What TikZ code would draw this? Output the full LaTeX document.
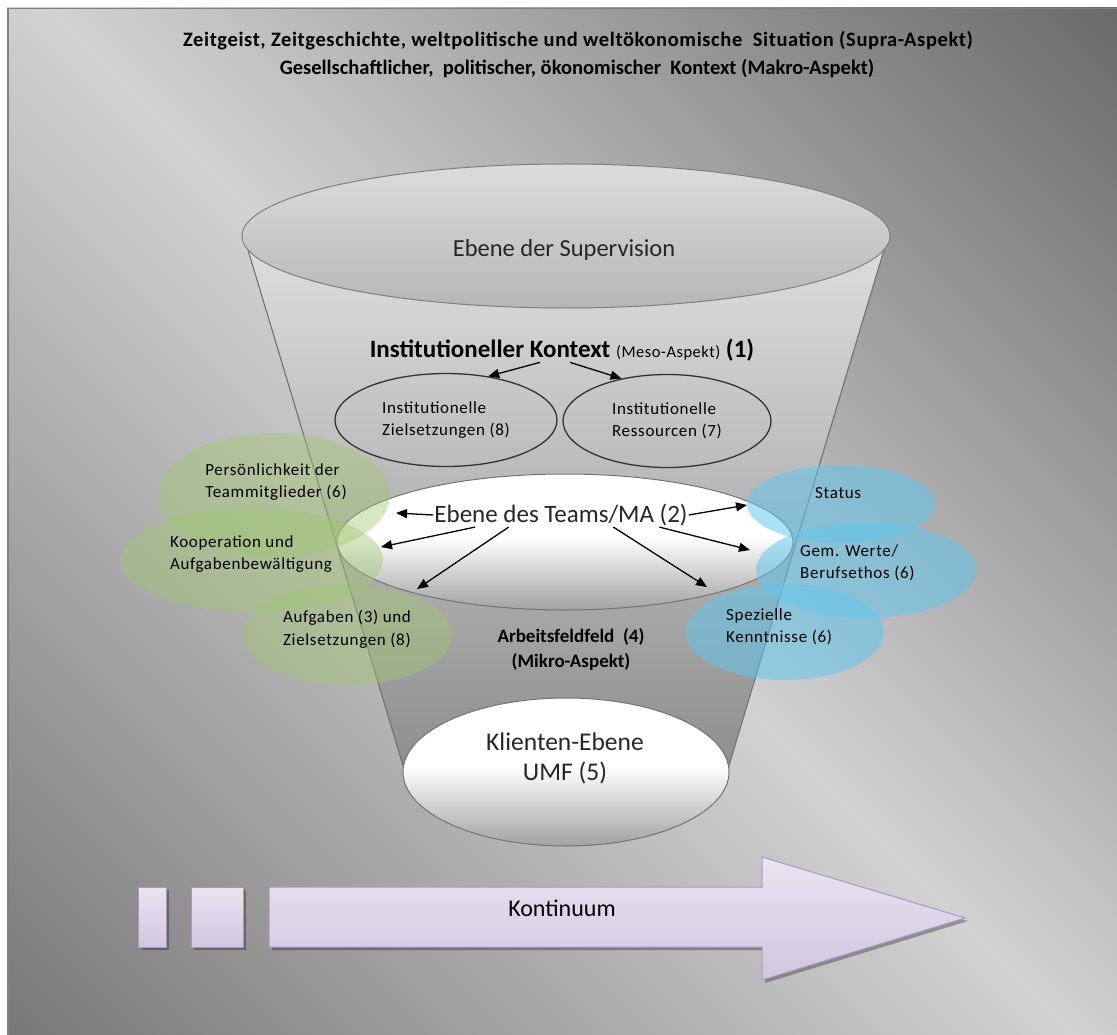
\documentclass[tikz,border=0pt]{standalone}
\usepackage{fontspec}
\setmainfont{Carlito}
\usetikzlibrary{arrows.meta,shapes.geometric}
\definecolor{bgbl}{HTML}{606060}
\definecolor{bgmid}{HTML}{D2D2D2}
\definecolor{bgtr}{HTML}{4E4E4E}
\definecolor{funtop}{HTML}{DCDCDC}
\definecolor{funbot}{HTML}{8E8E8E}
\definecolor{suptop}{HTML}{DCDCDC}
\definecolor{supbot}{HTML}{B6B6B6}
\definecolor{ellgray}{HTML}{A2A2A2}
\definecolor{edge}{HTML}{707070}
\definecolor{greenfill}{RGB}{160,200,110}
\definecolor{bluefill}{RGB}{95,198,238}
\definecolor{lavtop}{HTML}{EAE5F1}
\definecolor{lavbot}{HTML}{D0C6DF}
\definecolor{lavedge}{HTML}{A898C4}
\pgfdeclareverticalshading{bgsh}{100bp}{color(0bp)=(bgbl); color(5bp)=(bgbl); color(50bp)=(bgmid); color(95bp)=(bgtr); color(100bp)=(bgtr)}
\pgfdeclareverticalshading{whitegray}{100bp}{color(0bp)=(ellgray); color(25bp)=(ellgray); color(52bp)=(white); color(75bp)=(white); color(100bp)=(white)}
\tikzset{
  arr/.style={-{Triangle[length=11pt,width=9pt]}, line width=1.3pt, black},
  lbl/.style={font=\fontsize{17}{22.5}\selectfont\addfontfeatures{LetterSpace=4}, align=left, inner sep=0pt, text=black},
  bigtxt/.style={font=\fontsize{25}{30}\selectfont, inner sep=1pt, text=black!85},
  greenell/.style={ellipse, fill=greenfill, fill opacity=0.42, inner sep=0pt},
  blueell/.style={ellipse, fill=bluefill, fill opacity=0.52, inner sep=0pt},
  innerell/.style={ellipse, draw=black!80, line width=1.3pt, inner sep=0pt, align=left,
    font=\fontsize{17}{22.5}\selectfont\addfontfeatures{LetterSpace=4}},
  lavshape/.style={top color=lavtop, bottom color=lavbot, draw=lavedge, line width=1pt},
  lavshadow/.style={fill=black, fill opacity=0.3},
  titletxt/.style={font=\bfseries\fontsize{20.5}{24}\selectfont, inner sep=0pt},
}
\begin{document}
\begin{tikzpicture}[x=1pt,y=-1pt]
\useasboundingbox (0,0) rectangle (1117,1035);
% background
\fill[white] (0,0) rectangle (1117,1035);
\shade[shading=bgsh, shading angle=-45] (7,8) rectangle (1117,1035);
\draw[black!50, line width=1.5pt] (7.75,1035) -- (7.75,8.75) -- (1117,8.75);

% titles
\node[titletxt, font=\bfseries\fontsize{20.5}{24}\selectfont\addfontfeatures{LetterSpace=3}] (t1) at (578,41)
  {Zeitgeist, Zeitgeschichte, weltpolitische und weltökonomische\ \ Situation (Supra-Aspekt)};
\node[titletxt] (t2) at (577,69) {Gesellschaftlicher,\ \ politischer, ökonomischer\ \ Kontext (Makro-Aspekt)};

% funnel body
\shade[top color=funtop, bottom color=funbot] (248,250) -- (884,250) -- (727,772) -- (405,772) -- cycle;
\draw[edge, line width=1.1pt] (248,250) -- (405,772);
\draw[edge, line width=1.1pt] (884,250) -- (727,772);

% top ellipse
\node[ellipse, top color=suptop, bottom color=supbot, draw=black!50, line width=1pt,
      minimum width=648, minimum height=144, inner sep=0pt] (supE) at (566,236) {};
\node[bigtxt, font=\fontsize{24.5}{30}\selectfont] (supT) at (564,250) {Ebene der Supervision};

% institutional context
\node[inner sep=1pt] (inst) at (562,350) {\bfseries\fontsize{25}{28}\selectfont Institutioneller Kontext
  {\mdseries\fontsize{16.5}{18}\selectfont\addfontfeatures{LetterSpace=3}(Meso-Aspekt)} (1)};
\node[innerell, minimum width=222, minimum height=93] (iz) at (446,420) {Institutionelle\\Zielsetzungen (8)};
\node[innerell, minimum width=208, minimum height=93] (ir) at (667,421) {Institutionelle\\Ressourcen (7)};
\draw[arr] ([xshift=-22pt]inst.south) -- (iz.46);
\draw[arr] ([xshift=8pt]inst.south) -- (ir.137);

% team ellipse
\node[ellipse, shading=whitegray, draw=black!55, line width=1pt,
      minimum width=456, minimum height=136, inner sep=0pt] (teamE) at (565,542) {};

% green ellipses
\node[greenell, minimum width=232, minimum height=124] (persE) at (274,495) {};
\node[greenell, minimum width=262, minimum height=104] (koopE) at (252,560) {};
\node[greenell, minimum width=210, minimum height=100] (aufgE) at (347,635) {};
\node[lbl] (persT) at (276,482) {Persönlichkeit der\\Teammitglieder (6)};
\node[lbl] (koopT) at (251,554) {Kooperation und\\Aufgabenbewältigung};
\node[lbl] (aufgT) at (347,629) {Aufgaben (3) und\\Zielsetzungen (8)};

% blue ellipses
\node[blueell, minimum width=188, minimum height=78] (statE) at (841,504) {};
\node[blueell, minimum width=220, minimum height=96] (gemE) at (866,570) {};
\node[blueell, minimum width=198, minimum height=96] (spezE) at (785,632) {};
\node[lbl, anchor=west] (statT) at (815,493) {Status};
\node[lbl, anchor=west] (gemT) at (800,563) {Gem. Werte/\\Berufsethos (6)};
\node[lbl, anchor=west] (spezT) at (726,627) {Spezielle\\Kenntnisse (6)};

% team text and arrows
\node[bigtxt] (team) at (561,515) {Ebene des Teams/MA (2)};
\coordinate (a1) at (396,513);
\coordinate (a2) at (381,547);
\coordinate (a3) at (417,589);
\coordinate (a4) at (747,505);
\coordinate (a5) at (750,550);
\coordinate (a6) at (707,587);
\draw[arr] (team.west) -- (a1);
\draw[arr] (team.188) -- (a2);
\draw[arr] (team.193) -- (a3);
\draw[arr] (team.east) -- (a4);
\draw[arr] (team.-7.5) -- (a5);
\draw[arr] (team.-13) -- (a6);

% work field
\node[align=center, font=\bfseries\fontsize{19}{25}\selectfont, inner sep=0pt] (arb) at (571,649)
  {Arbeitsfeldfeld\ \ (4)\\(Mikro-Aspekt)};

% client level
\node[ellipse, shading=whitegray, draw=black!55, line width=1pt,
      minimum width=326, minimum height=148, inner sep=0pt] (klE) at (566,772) {};
\node[bigtxt, align=center, font=\fontsize{25.5}{30}\selectfont] (klT) at (565,758) {Klienten-Ebene\\UMF (5)};

% continuum arrow
\fill[lavshadow] (141.5,890) rectangle (169,950);
\fill[lavshadow] (194,890) rectangle (246,950);
\fill[lavshadow] (272,890) -- (765,890) -- (765,860) -- (968,921) -- (765,983) -- (765,950) -- (272,950) -- cycle;
\shade[lavshape] (138.5,887) rectangle (166,947);
\shade[lavshape] (191,887) rectangle (243,947);
\shade[lavshape] (269,887) -- (762,887) -- (762,857) -- (965,918) -- (762,980) -- (762,947) -- (269,947) -- cycle;
\node[font=\fontsize{24}{28}\selectfont, inner sep=0pt] (kont) at (562,908) {Kontinuum};
\end{tikzpicture}
\end{document}
